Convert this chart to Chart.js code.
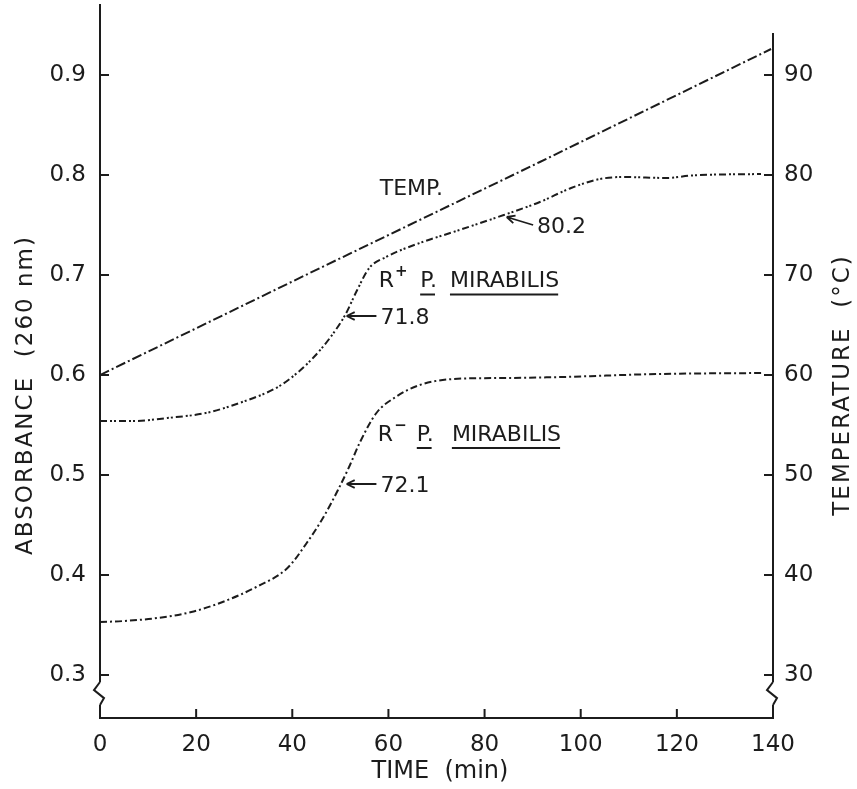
<!DOCTYPE html>
<html>
<head>
<meta charset="utf-8">
<script src="https://cdn.jsdelivr.net/npm/chart.js@4.4.0/dist/chart.umd.min.js"></script>
<style>
  html, body { margin: 0; padding: 0; background: #fff; }
  #wrap { width: 857px; height: 789px; }
</style>
</head>
<body>
<div id="wrap"><canvas id="chart" width="857" height="789"></canvas></div>
<script>
// values (time in min)
const tempTime = [0, 45.8, 91.5, 139.6];
const tempDeg = [60, 70.7, 81.3, 92.6];

const rPlusTime = [0, 7, 14, 22, 29, 37, 41, 44.5, 47.5, 51, 53.5, 56, 59.5, 66.5, 73.5, 84, 91.5, 98, 104, 109, 118, 123, 137.5];
const rPlusAbs = [0.554, 0.554, 0.557, 0.562, 0.572, 0.588, 0.602, 0.618, 0.635, 0.66, 0.685, 0.707, 0.718, 0.732, 0.743, 0.76, 0.773, 0.787, 0.796, 0.798, 0.797, 0.7995, 0.801];

const rMinusTime = [0, 5, 12, 19, 25.5, 32.5, 39, 43, 46.5, 49.5, 52, 54, 57.5, 61.5, 66.5, 73.5, 84, 96, 116, 138];
const rMinusAbs = [0.353, 0.354, 0.357, 0.363, 0.373, 0.388, 0.407, 0.432, 0.458, 0.485, 0.51, 0.532, 0.562, 0.578, 0.59, 0.596, 0.597, 0.598, 0.601, 0.602];

const timeTicks = [0, 20, 40, 60, 80, 100, 120, 140];
const absTicks = [0.3, 0.4, 0.5, 0.6, 0.7, 0.8, 0.9];
const tempTicks = [30, 40, 50, 60, 70, 80, 90];

const ink = '#1c1c1c';
const face = '"DejaVu Sans", "Liberation Sans", sans-serif';

function points(xs, ys) {
  return xs.map((x, i) => ({x: x, y: ys[i]}));
}

// tick marks drawn inward, axis breaks, titles and the notes on the plot
const notes = {
  id: 'notes',
  afterDraw(chart) {
    const ctx = chart.ctx;
    const x = chart.scales.x, ya = chart.scales.yAbs, yt = chart.scales.yTemp;
    const a = chart.chartArea;
    ctx.save();
    ctx.strokeStyle = ink;
    ctx.fillStyle = ink;
    ctx.lineWidth = 2;

    ctx.beginPath();
    timeTicks.forEach(v => {
      const p = x.getPixelForValue(v);
      ctx.moveTo(p, a.bottom); ctx.lineTo(p, a.bottom - 9);
    });
    absTicks.forEach(v => {
      const p = ya.getPixelForValue(v);
      ctx.moveTo(a.left, p); ctx.lineTo(a.left + 9, p);
    });
    tempTicks.forEach(v => {
      const p = yt.getPixelForValue(v);
      ctx.moveTo(a.right, p); ctx.lineTo(a.right - 9, p);
    });
    ctx.stroke();

    // broken axis marks
    [a.left, a.right].forEach(ax => {
      const top = ya.getPixelForValue(0.293), bot = ya.getPixelForValue(0.27);
      ctx.fillStyle = '#fff';
      ctx.fillRect(ax - 3, top, 6, bot - top);
      ctx.fillStyle = ink;
      const h = bot - top;
      ctx.beginPath();
      ctx.moveTo(ax, top);
      ctx.lineTo(ax - 6, top + h * 0.35);
      ctx.lineTo(ax + 4, top + h * 0.7);
      ctx.lineTo(ax, bot);
      ctx.stroke();
    });
    // right axis starts lower than the left one
    ctx.fillStyle = '#fff';
    ctx.fillRect(a.right - 2, 0, 4, yt.getPixelForValue(94.2));
    ctx.fillStyle = ink;

    ctx.font = '24px ' + face;
    ctx.textAlign = 'center';
    ctx.textBaseline = 'middle';
    ctx.fillText('TIME  (min)', 440, 772);

    if ('letterSpacing' in ctx) ctx.letterSpacing = '2px';
    ctx.font = '23px ' + face;
    ctx.save();
    ctx.translate(26, 395);
    ctx.rotate(-Math.PI / 2);
    ctx.fillText('ABSORBANCE  (260 nm)', 0, 0);
    ctx.restore();

    ctx.save();
    ctx.translate(843, 385);
    ctx.rotate(-Math.PI / 2);
    ctx.fillText('TEMPERATURE  (°C)', 0, 0);
    ctx.restore();
    if ('letterSpacing' in ctx) ctx.letterSpacing = '0px';

    // text notes
    ctx.textAlign = 'left';
    ctx.font = '22px ' + face;
    ctx.fillText('TEMP.', x.getPixelForValue(58.2), ya.getPixelForValue(0.786));

    const strain = (t, v, sup, tP, tM) => {
      const px = x.getPixelForValue(t), py = ya.getPixelForValue(v);
      ctx.font = '22px ' + face;
      ctx.fillText('R', px, py);
      const rw = ctx.measureText('R').width;
      ctx.font = 'bold 15px ' + face;
      ctx.fillText(sup, px + rw + 1, py - 9);
      ctx.font = '22px ' + face;
      const pp = x.getPixelForValue(tP), pm = x.getPixelForValue(tM);
      ctx.fillText('P.', pp, py);
      ctx.fillText('MIRABILIS', pm, py);
      const ww = ctx.measureText('P.').width, mw = ctx.measureText('MIRABILIS').width;
      ctx.lineWidth = 2;
      ctx.beginPath();
      ctx.moveTo(pp, py + 13); ctx.lineTo(pp + ww - 2, py + 13);
      ctx.moveTo(pm, py + 13); ctx.lineTo(pm + mw - 1, py + 13);
      ctx.stroke();
    };
    strain(58.0, 0.6935, '+', 66.6, 72.8);
    strain(57.8, 0.540, '\u2212', 65.9, 73.2);

    const arrow = (t1, v1, t2, v2, label) => {
      const x1 = x.getPixelForValue(t1), y1 = ya.getPixelForValue(v1);
      const x2 = x.getPixelForValue(t2), y2 = ya.getPixelForValue(v2);
      const ang = Math.atan2(y1 - y2, x1 - x2);
      ctx.lineWidth = 1.8;
      ctx.beginPath();
      ctx.moveTo(x2, y2); ctx.lineTo(x1, y1);
      ctx.moveTo(x1, y1);
      ctx.lineTo(x1 - 9 * Math.cos(ang - 0.45), y1 - 9 * Math.sin(ang - 0.45));
      ctx.moveTo(x1, y1);
      ctx.lineTo(x1 - 9 * Math.cos(ang + 0.45), y1 - 9 * Math.sin(ang + 0.45));
      ctx.stroke();
      ctx.font = '22px ' + face;
      ctx.fillText(label, x2 + 4, y2 + 2);
    };
    arrow(51.3, 0.659, 57.5, 0.659, '71.8');
    arrow(84.6, 0.758, 90.1, 0.750, '80.2');
    arrow(51.3, 0.491, 57.5, 0.491, '72.1');

    ctx.restore();
  }
};

chartIt();

function chartIt() {
  const ctx = document.getElementById('chart').getContext('2d');
  const tickFont = {family: face, size: 23};

  const myChart = new Chart(ctx, {
    type: 'line',
    data: {
      datasets: [{
        label: 'TEMP.',
        data: points(tempTime, tempDeg),
        yAxisID: 'yTemp',
        borderColor: ink,
        borderWidth: 2,
        borderDash: [10, 3, 2, 3],
        pointRadius: 0,
        tension: 0
      }, {
        label: 'R+ P. mirabilis',
        data: points(rPlusTime, rPlusAbs),
        yAxisID: 'yAbs',
        borderColor: ink,
        borderWidth: 2,
        borderDash: [7, 3, 2, 2, 2, 3],
        pointRadius: 0,
        cubicInterpolationMode: 'monotone'
      }, {
        label: 'R- P. mirabilis',
        data: points(rMinusTime, rMinusAbs),
        yAxisID: 'yAbs',
        borderColor: ink,
        borderWidth: 2,
        borderDash: [7, 3, 2, 3],
        pointRadius: 0,
        cubicInterpolationMode: 'monotone'
      }]
    },
    options: {
      responsive: false,
      animation: false,
      layout: {padding: {top: 5, left: 0, right: 0, bottom: 0}},
      plugins: {
        legend: {display: false},
        tooltip: {enabled: false}
      },
      scales: {
        x: {
          type: 'linear',
          position: 'bottom',
          min: 0,
          max: 140,
          grid: {display: false},
          border: {color: ink, width: 2},
          ticks: {font: tickFont, color: ink, padding: 5, maxRotation: 0},
          afterBuildTicks: s => { s.ticks = timeTicks.map(v => ({value: v})); },
          afterFit: s => { s.height = 71; s.paddingLeft = 0; s.paddingRight = 0; }
        },
        yAbs: {
          type: 'linear',
          position: 'left',
          min: 0.257,
          max: 0.97,
          grid: {display: false},
          border: {color: ink, width: 2},
          ticks: {font: tickFont, color: ink, padding: 6, callback: v => v.toFixed(1)},
          afterBuildTicks: s => { s.ticks = absTicks.map(v => ({value: v})); },
          afterFit: s => { s.width = 100; s.paddingTop = 0; s.paddingBottom = 0; }
        },
        yTemp: {
          type: 'linear',
          position: 'right',
          min: 25.7,
          max: 97,
          grid: {display: false},
          border: {color: ink, width: 2},
          ticks: {font: tickFont, color: ink, padding: 3},
          afterBuildTicks: s => { s.ticks = tempTicks.map(v => ({value: v})); },
          afterFit: s => { s.width = 84; s.paddingTop = 0; s.paddingBottom = 0; }
        }
      }
    },
    plugins: [notes]
  });
}
</script>
</body>
</html>
